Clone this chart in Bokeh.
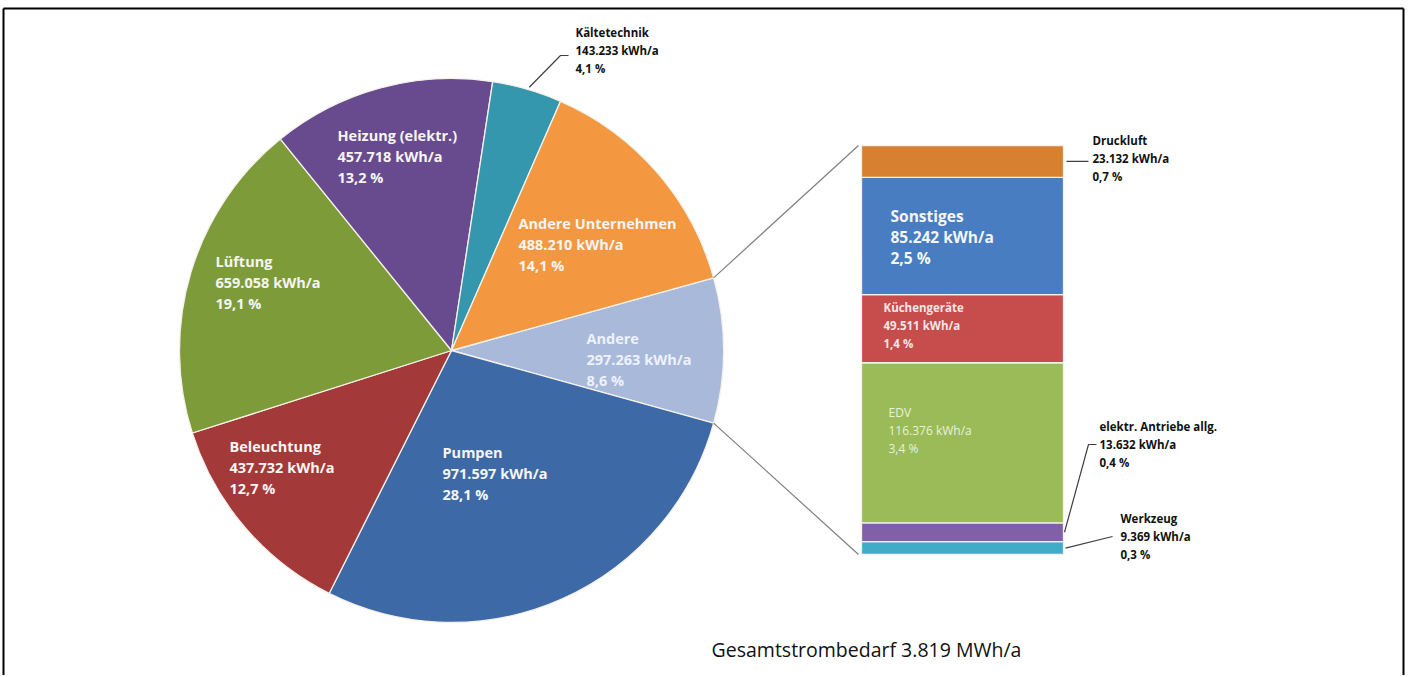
import numpy as np
from bokeh.plotting import figure
from bokeh.models import ColumnDataSource, Range1d
from bokeh.core.properties import value
from bokeh.embed import file_html
from bokeh.resources import INLINE

# ---------------- data ----------------
pie_labels = ["Andere", "Pumpen", "Beleuchtung", "Lüftung",
              "Heizung (elektr.)", "Kältetechnik", "Andere Unternehmen"]
pie_values = [297263, 971597, 437732, 659058, 457718, 143233, 488210]
pie_percent = [8.6, 28.1, 12.7, 19.1, 13.2, 4.1, 14.1]
pie_colors = ["#A9B9DA", "#3D6AA6", "#A33938", "#7E9B3A",
              "#684B8E", "#3597AD", "#F39841"]

bar_labels = ["Werkzeug", "elektr. Antriebe allg.", "EDV",
              "Küchengeräte", "Sonstiges", "Druckluft"]
bar_values = [9369, 13632, 116376, 49511, 85242, 23132]
bar_percent = [0.3, 0.4, 3.4, 1.4, 2.5, 0.7]
bar_colors = ["#40ACC7", "#8061A8", "#9BBB59", "#C74C4C", "#487DC2", "#D68030"]

title_text = "Gesamtstrombedarf 3.819 MWh/a"

FONT = value("Open Sans")

def fmt_val(v):
    return f"{v:,}".replace(",", ".") + " kWh/a"

def fmt_pct(p):
    return f"{p:.1f}".replace(".", ",") + " %"

# ---------------- layout ----------------
W, H = 1406, 675
def X(rx):
    return rx
def Y(ry):
    return H - ry

CX, CY, R = X(451), Y(350), 272
BAR_L, BAR_R = X(861), X(1063)
BAR_TOP, BAR_BOT = Y(145), Y(554)

p = figure(width=W, height=H, x_range=Range1d(0, W), y_range=Range1d(0, H),
           output_backend="svg", toolbar_location=None, min_border=0,
           x_axis_location=None, y_axis_location=None)
p.grid.visible = False
p.outline_line_color = None
p.background_fill_color = "white"
p.border_fill_color = "white"

# frame lines (top, left, right)
p.segment(x0=[X(3), X(3), X(1403)], y0=[Y(8), Y(8), Y(8)],
          x1=[X(1403), X(3), X(1403)], y1=[Y(8), 0, 0],
          line_color="black", line_width=2)

# ---------------- pie ----------------
pv = np.array(pie_values, dtype=float)
frac = pv / pv.sum()
cum = np.concatenate([[0.0], np.cumsum(frac)[:-1]])
top = np.pi * frac[0] - 2 * np.pi * cum
bot = top - 2 * np.pi * frac
pie_src = ColumnDataSource(dict(start=bot, end=top, color=pie_colors))
p.wedge(x=CX, y=CY, radius=R, start_angle="start", end_angle="end",
        direction="anticlock", fill_color="color", line_color="#F4F1EA",
        line_width=1.3, source=pie_src)

# ---------------- bar (stacked, own scale) ----------------
bv = np.array(bar_values, dtype=float)
btotal = bv.sum()
upp = btotal / (BAR_TOP - BAR_BOT)
p.extra_y_ranges = {"bar": Range1d(start=-BAR_BOT * upp, end=(H - BAR_BOT) * upp)}
bcum_top = np.cumsum(bv)
bcum_bot = bcum_top - bv
bar_src = ColumnDataSource(dict(bottom=bcum_bot, top=bcum_top, color=bar_colors))
p.quad(left=BAR_L, right=BAR_R, bottom="bottom", top="top", fill_color="color",
       line_color="#F4F1EA", line_width=1.3, y_range_name="bar", source=bar_src)

def bar_px(v):
    return BAR_BOT + v / upp

# connector lines pie -> bar
p.segment(x0=[CX + R * np.cos(top[0]), CX + R * np.cos(bot[0])],
          y0=[CY + R * np.sin(top[0]), CY + R * np.sin(bot[0])],
          x1=[BAR_L - 3, BAR_L - 3], y1=[BAR_TOP, BAR_BOT],
          line_color="#7F7F7F", line_width=1.2)

# ---------------- leader lines ----------------
k_mid = (top[5] + bot[5]) / 2
kx, ky = CX + R * np.cos(k_mid), CY + R * np.sin(k_mid)
mids = (bcum_bot + bcum_top) / 2
leaders_x = [
    [kx + 2, X(560), X(568)],
    [BAR_R + 3, X(1088)],
    [BAR_R + 1, X(1088), X(1096)],
    [BAR_R + 2, X(1112)],
]
leaders_y = [
    [ky + 2, Y(55), Y(55)],
    [bar_px(mids[5]), bar_px(mids[5])],
    [bar_px(mids[1]), Y(444), Y(444)],
    [bar_px(mids[0]), Y(536)],
]
p.multi_line(xs=leaders_x, ys=leaders_y, line_color="#404040", line_width=1.2)

# ---------------- labels ----------------
def add_label(lines_, x, y, size, color, spacing, bold=True):
    ys = [y - i * spacing for i in range(len(lines_))]
    p.text(x=[x] * len(lines_), y=ys, text=lines_, text_font=FONT,
           text_font_size=f"{size}px", text_color=color,
           text_font_style="bold" if bold else "normal",
           text_baseline="middle", text_align="left")

# pie labels (inside)
pie_label_pos = {
    "Andere": (586, 338),
    "Pumpen": (442, 452),
    "Beleuchtung": (229, 446),
    "Lüftung": (215, 261),
    "Heizung (elektr.)": (337, 135),
    "Andere Unternehmen": (518, 223),
}
pie_text_color = {"Andere": "#EEF2FA"}
for name, v, pc in zip(pie_labels, pie_values, pie_percent):
    if name in pie_label_pos:
        rx, ry = pie_label_pos[name]
        add_label([name, fmt_val(v), fmt_pct(pc)], X(rx), Y(ry), 14.5,
                  pie_text_color.get(name, "#F5F5F5"), 21)

# Kältetechnik (outside)
add_label([pie_labels[5], fmt_val(pie_values[5]), fmt_pct(pie_percent[5])],
          X(575), Y(32), 11.5, "#111111", 18)

# bar labels
bar_label_cfg = {
    "Sonstiges": ((890, 215), 15.5, "#F5F5F5", 21, True),
    "Küchengeräte": ((883, 307), 11.5, "#F3E6E6", 18, True),
    "EDV": ((888, 412), 12, "#EAF2D6", 18, False),
    "Druckluft": ((1092, 140), 11.5, "#111111", 18, True),
    "elektr. Antriebe allg.": ((1099, 426), 11.5, "#111111", 18, True),
    "Werkzeug": ((1120, 518), 11.5, "#111111", 18, True),
}
for name, v, pc in zip(bar_labels, bar_values, bar_percent):
    (rx, ry), size, col, sp, bold = bar_label_cfg[name]
    add_label([name, fmt_val(v), fmt_pct(pc)], X(rx), Y(ry), size, col, sp, bold)

# title
p.text(x=[X(866)], y=[Y(649)], text=[title_text], text_font=FONT,
       text_font_size="19.5px", text_color="#111111", text_baseline="middle",
       text_align="center")

open("out.html", "w").write(file_html(p, INLINE))
